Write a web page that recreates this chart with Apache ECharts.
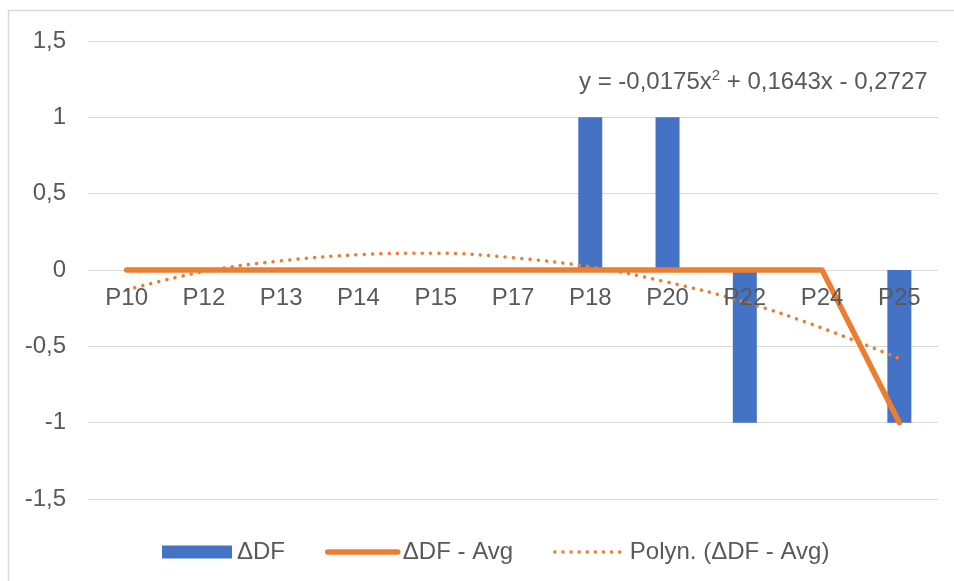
<!DOCTYPE html>
<html>
<head>
<meta charset="utf-8">
<script src="https://cdn.jsdelivr.net/npm/echarts@6/dist/echarts.min.js"></script>
<style>
  html, body { margin: 0; padding: 0; background: #fff; }
  #chart { width: 954px; height: 581px; }
</style>
</head>
<body>
<div id="chart"></div>
<script>
// Position labels along the x axis
const categories = ['P10', 'P12', 'P13', 'P14', 'P15', 'P17', 'P18', 'P20', 'P22', 'P24', 'P25'];
// ΔDF per position
const deltaDF = [0, 0, 0, 0, 0, 0, 1, 1, -1, 0, -1];
// ΔDF minus average
const deltaDFAvg = [0, 0, 0, 0, 0, 0, 0, 0, 0, 0, -1];
// Polynomial trend of ΔDF - Avg, sampled at each position
const trendValues = [-0.13, -0.01, 0.06, 0.10, 0.11, 0.08, 0.02, -0.08, -0.21, -0.38, -0.58];
// Trend equation shown above the plot
const trendEquation = ['y = -0,0175x', '2', ' + 0,1643x - 0,2727'];

const textColor = '#595959';
const gridColor = '#D9D9D9';
const barColor = '#4472C4';
const lineColor = '#ED7D31';
const fontFamily = '"Liberation Sans", Arial, sans-serif';
const fontSize = 24;

const gridTop = 41;
const gridBottom = 82;
const chartHeight = 581;
// The category axis sits on the zero line, halfway up the symmetric value range
const plotHeight = chartHeight - gridTop - gridBottom;
const zeroLineShift = -Math.round(plotHeight / 2);

const chart = echarts.init(document.getElementById('chart'), null, { renderer: 'canvas' });

chart.setOption({
  animation: false,
  backgroundColor: '#ffffff',
  textStyle: { fontFamily: fontFamily, color: textColor },
  grid: { left: 88, right: 16, top: gridTop, bottom: gridBottom, containLabel: false },
  xAxis: {
    type: 'category',
    data: categories,
    offset: zeroLineShift,
    z: 10,
    axisLine: { show: false, onZero: false },
    axisTick: { show: false },
    axisLabel: { color: textColor, fontSize: fontSize, margin: 16, fontFamily: fontFamily },
    splitLine: { show: false }
  },
  yAxis: {
    type: 'value',
    min: -1.5,
    max: 1.5,
    interval: 0.5,
    axisLine: { show: false },
    axisTick: { show: false },
    axisLabel: {
      color: textColor, fontSize: fontSize, margin: 22, fontFamily: fontFamily,
      formatter: v => String(Math.round(v * 10) / 10).replace('.', ',')
    },
    splitLine: { show: true, lineStyle: { color: gridColor, width: 1 } }
  },
  legend: {
    top: 535,
    left: 157,
    itemGap: 40,
    itemWidth: 70,
    itemHeight: 13,
    textStyle: { color: textColor, fontSize: fontSize, fontFamily: fontFamily },
    data: [
      { name: 'ΔDF', icon: 'rect' },
      {
        name: 'ΔDF - Avg',
        itemStyle: { opacity: 0 },
        lineStyle: { width: 5.5, cap: 'round', color: lineColor }
      },
      {
        name: 'Polyn. (ΔDF - Avg)',
        itemStyle: { opacity: 0 },
        lineStyle: { width: 3.5, cap: 'round', color: lineColor, type: [0.1, 8] }
      }
    ]
  },
  series: [
    {
      name: 'ΔDF',
      type: 'bar',
      data: deltaDF,
      barWidth: 24,
      itemStyle: { color: barColor },
      z: 2
    },
    {
      name: 'ΔDF - Avg',
      type: 'line',
      data: deltaDFAvg,
      symbol: 'none',
      lineStyle: { color: lineColor, width: 5.5, cap: 'round', join: 'round' },
      itemStyle: { color: lineColor },
      z: 3
    },
    {
      name: 'Polyn. (ΔDF - Avg)',
      type: 'line',
      data: trendValues,
      symbol: 'none',
      smooth: 0.4,
      lineStyle: { color: lineColor, width: 3.5, type: [0.1, 8.2], cap: 'round' },
      itemStyle: { color: lineColor },
      z: 4
    }
  ],
  graphic: [
    {
      type: 'rect',
      silent: true,
      shape: { x: 8.5, y: 10.5, width: 960, height: 600 },
      style: { fill: 'none', stroke: gridColor, lineWidth: 1.5 },
      z: -1
    },
    {
      type: 'text',
      silent: true,
      left: 579,
      top: 68,
      style: {
        text: '{a|' + trendEquation[0] + '}{s|' + trendEquation[1] + '}{a|' + trendEquation[2] + '}',
        rich: {
          a: { fontSize: fontSize, lineHeight: 28, fill: textColor, fontFamily: fontFamily },
          s: { fontSize: 15, lineHeight: 28, fill: textColor, fontFamily: fontFamily, verticalAlign: 'top' }
        }
      }
    }
  ]
});
</script>
</body>
</html>
